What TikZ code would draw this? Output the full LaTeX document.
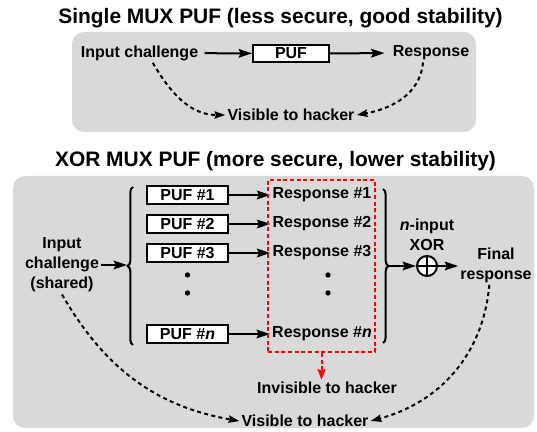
\documentclass[tikz,border=0pt]{standalone}
\usepackage{fontspec}
\setmainfont{Liberation Sans}
\usetikzlibrary{arrows.meta,decorations.pathreplacing}
\definecolor{panel}{HTML}{D9D9D9}

\begin{document}
\begin{tikzpicture}[x=0.75pt,y=0.75pt,>={Stealth[length=10pt,width=6.5pt,inset=1.5pt]},line width=1.5pt,node distance=21.75pt,
    font=\bfseries\fontsize{12}{15}\selectfont,
    box node/.style={draw,fill=white,minimum width=60.75pt,minimum height=13.5pt,inner sep=0pt},
    text node/.style={inner sep=1pt,align=center},
    title node/.style={font=\bfseries\fontsize{15.7}{18}\selectfont},
    hacker/.style={-{Stealth[length=8pt,width=5.5pt,inset=1pt]},dash pattern=on 3pt off 2.5pt},
    bracket/.style={decorate,decoration={brace,amplitude=4pt}}]
  \useasboundingbox (0,0) rectangle (537,432);

  % single MUX PUF
  \node[title node] (t1) at (280.5,414) {Single MUX PUF (less secure, good stability)};
  \fill[panel,rounded corners=9pt] (72,300) rectangle (476,400);
  \node[text node] (ic) at (139.5,379) {Input challenge};
  \node[box node,minimum width=57pt,minimum height=12.75pt] (puf) at (291,378.5) {PUF};
  \node[text node] (rsp) at (431,379) {Response};
  \node[text node] (vis1) at (291,317) {Visible to hacker};
  \draw[->,shorten <=3pt] (ic) -- (puf);
  \draw[->,shorten >=4.5pt] (puf) -- (rsp);
  \draw[hacker] ([xshift=10pt]ic.south) to[out=-60,in=180] (vis1.west);
  \draw[hacker] ([xshift=-6pt]rsp.south) to[out=-95,in=10] (vis1.east);

  % XOR MUX PUF
  \node[title node] (t2) at (275.5,271) {XOR MUX PUF (more secure, lower stability)};
  \fill[panel,rounded corners=9pt] (13,4) rectangle (534,256);
  \node[text node] (ics) at (62,167) {Input\\challenge\\(shared)};

  \node[box node] (p1) at (187.5,237) {PUF \#1};
  \node[box node] (p2) [below of=p1] {PUF \#2};
  \node[box node] (p3) [below of=p2] {PUF \#3};
  \node[box node] (pn) at (187.5,98) {PUF \#\textit{n}};

  \node[text node] (r1) at (322,237) {Response \#1};
  \node[text node] (r2) [below of=r1] {Response \#2};
  \node[text node] (r3) [below of=r2] {Response \#3};
  \node[text node] (rn) at (322,98) {Response \#\textit{n}};

  \foreach \y in {157,139} {
    \fill (187.5,\y) circle (2pt);
    \fill (328,\y) circle (2pt);
  }

  \foreach \i in {1,2,3,n}
    \draw[->] (p\i) -- (r\i);

  \node[draw=red,dash pattern=on 3pt off 2pt,minimum width=80.25pt,minimum height=129pt] (hid) at (321.5,166) {};

  % braces
  \coordinate (bl1) at (133,87);
  \coordinate (bl2) at (133,245);
  \coordinate (tipl) at (127,166);
  \draw[bracket] (bl1) -- (bl2);
  \coordinate (br1) at (383,243);
  \coordinate (br2) at (383,89);
  \coordinate (tipr) at (389,166);
  \draw[bracket] (br1) -- (br2);
  \draw[->] (ics.east) -- (ics.east -| tipl);

  % XOR gate
  \node[circle,draw,fill=white,minimum size=15pt,inner sep=0pt] (xor) at (427,166) {};
  \draw (xor.north) -- (xor.south) (xor.west) -- (xor.east);
  \node[text node] (xl) at (427,197.5) {\textit{n}-input\\XOR};
  \node[text node] (fin) at (496,167) {Final\\response};
  \draw[->] (tipr) -- (xor.west);
  \draw[->] (xor.east) -- (xor.east -| fin.west);

  \node[text node] (inv) at (327,44) {Invisible to hacker};
  \node[text node] (vis2) at (305,11) {Visible to hacker};
  \draw[red,dash pattern=on 3pt off 2pt,-{Stealth[length=8pt,width=6pt,inset=1pt]}] (hid.south) -- (hid.south |- inv.north);
  \draw[hacker] (ics.south) to[out=-60,in=170] (vis2.west);
  \draw[hacker] ([xshift=-5pt]fin.south) to[out=-95,in=15] (vis2.east);
\end{tikzpicture}
\end{document}
